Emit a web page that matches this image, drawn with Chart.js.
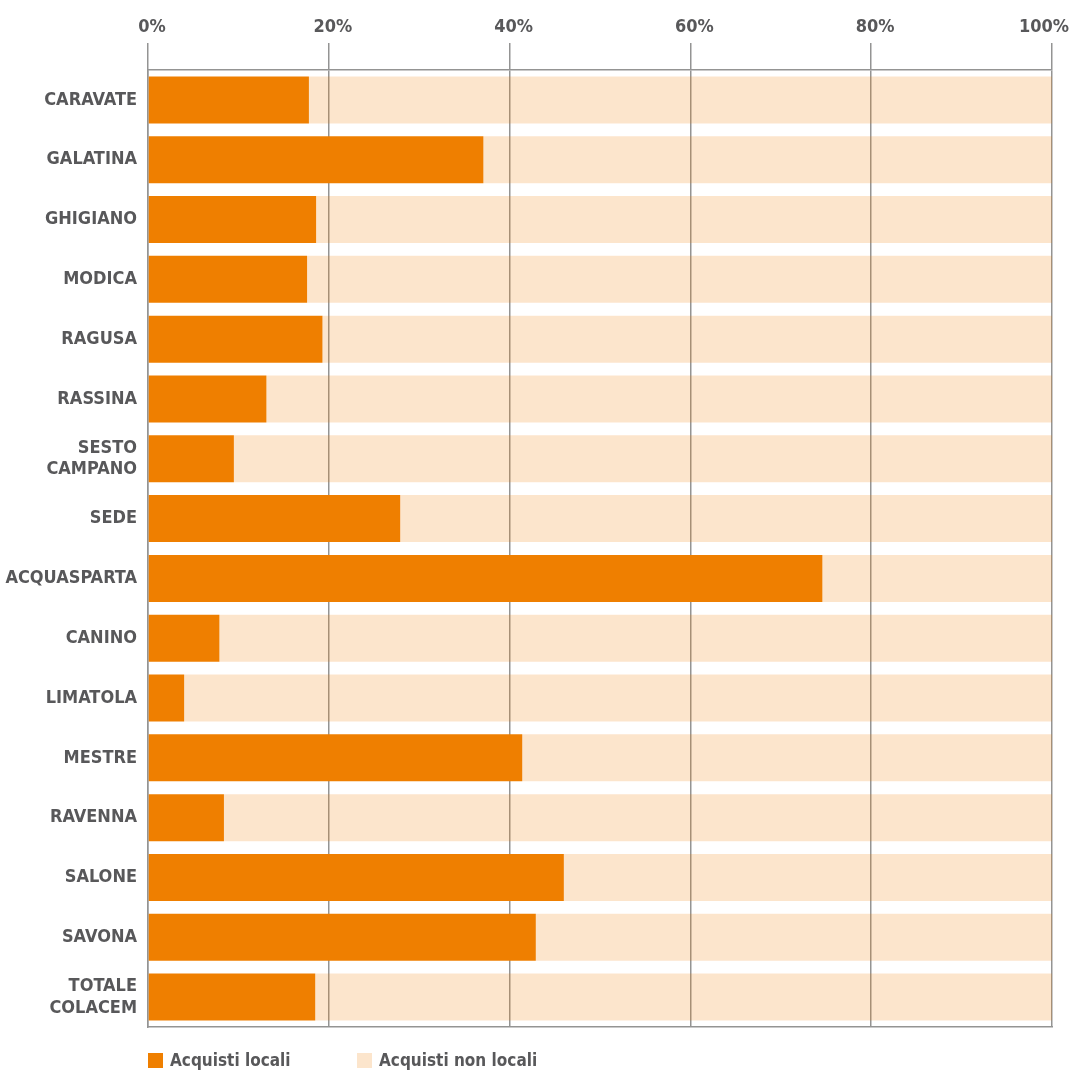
<!DOCTYPE html>
<html>
<head>
<meta charset="utf-8">
<script src="https://cdn.jsdelivr.net/npm/chart.js@4/dist/chart.umd.min.js"></script>
<style>
  html, body { margin: 0; padding: 0; background: #ffffff; }
</style>
</head>
<body>
<canvas id="acquisti-chart" width="1074" height="1070"></canvas>
<script>
// Plants (categories), top to bottom
const plants = [
    'CARAVATE', 'GALATINA', 'GHIGIANO', 'MODICA', 'RAGUSA', 'RASSINA',
    ['SESTO', 'CAMPANO'], 'SEDE', 'ACQUASPARTA', 'CANINO', 'LIMATOLA',
    'MESTRE', 'RAVENNA', 'SALONE', 'SAVONA', ['TOTALE', 'COLACEM']
];

// Share of local purchases (%)
const acquistiLocali = [17.8, 37.1, 18.6, 17.6, 19.3, 13.1, 9.5, 27.9, 74.6, 7.9, 4.0, 41.4, 8.4, 46.0, 42.9, 18.5];

// Share of non-local purchases (%)
const acquistiNonLocali = [82.2, 62.9, 81.4, 82.4, 80.7, 86.9, 90.5, 72.1, 25.4, 92.1, 96.0, 58.6, 91.6, 54.0, 57.1, 81.5];

// Tick labels for the percentage axis
const tickValues = [0, 20, 40, 60, 80, 100];
const tickLabels = ['0%', '20%', '40%', '60%', '80%', '100%'];

const orange = '#ef7f00';
const lightOrange = 'rgba(239, 127, 0, 0.2)';
const textGray = '#58585a';
const lineGray = '#949493';
const fontFamily = '"DejaVu Sans Condensed", "Liberation Sans Narrow", sans-serif';

// Percentage labels above the top axis (last one kept inside the canvas)
const topTickLabels = {
    id: 'topTickLabels',
    afterDraw(chart) {
        const ctx = chart.ctx;
        const scale = chart.scales.x;
        const y = chart.chartArea.top - 43;
        ctx.save();
        ctx.font = 'bold 18px ' + fontFamily;
        ctx.fillStyle = textGray;
        ctx.textAlign = 'center';
        ctx.textBaseline = 'middle';
        tickValues.forEach(function(v, i) {
            const w = ctx.measureText(tickLabels[i]).width;
            let x = scale.getPixelForValue(v) + 4;
            x = Math.min(x, chart.width - 5 - w / 2);
            ctx.fillText(tickLabels[i], x, y);
        });
        ctx.restore();
    }
};

// Legend drawn under the chart area, aligned with the left axis
const bottomLegend = {
    id: 'bottomLegend',
    afterDraw(chart) {
        const ctx = chart.ctx;
        const left = chart.chartArea.left;
        const y = chart.chartArea.bottom + 34;
        ctx.save();
        ctx.font = 'bold 17px ' + fontFamily;
        ctx.textBaseline = 'middle';
        chart.data.datasets.forEach(function(ds, i) {
            const x = left + i * 209;
            ctx.fillStyle = ds.backgroundColor;
            ctx.fillRect(x, y - 8, 15, 15);
            ctx.fillStyle = textGray;
            ctx.fillText(ds.label, x + 22, y + 1);
        });
        ctx.restore();
    }
};

const chartElement = document.getElementById('acquisti-chart');

let acquistiChart = new Chart(chartElement, {
    type: 'bar',
    data: {
        labels: plants,
        datasets: [{
            label: 'Acquisti locali',
            data: acquistiLocali,
            backgroundColor: orange,
            borderWidth: 0
        }, {
            label: 'Acquisti non locali',
            data: acquistiNonLocali,
            backgroundColor: lightOrange,
            borderWidth: 0
        }]
    },
    options: {
        indexAxis: 'y',
        responsive: false,
        animation: false,
        categoryPercentage: 1,
        barPercentage: 0.785,
        layout: {
            padding: { top: 0, right: 22, bottom: 43, left: 0 }
        },
        scales: {
            x: {
                position: 'top',
                stacked: true,
                min: 0,
                max: 100,
                afterBuildTicks: function(scale) {
                    scale.ticks = tickValues.map(v => ({ value: v }));
                },
                afterFit: function(scale) {
                    scale.height = 70;
                    scale.paddingLeft = 0;
                    scale.paddingRight = 0;
                },
                ticks: {
                    display: false
                },
                grid: {
                    color: lineGray,
                    lineWidth: 1.5,
                    tickLength: 27,
                    drawOnChartArea: true
                },
                border: {
                    display: true,
                    color: lineGray,
                    width: 1.5
                }
            },
            x2: {
                position: 'bottom',
                min: 0,
                max: 100,
                afterFit: function(scale) {
                    scale.height = 0;
                    scale.paddingLeft = 0;
                    scale.paddingRight = 0;
                },
                ticks: { display: false },
                grid: { display: false, drawTicks: false },
                border: {
                    display: true,
                    color: lineGray,
                    width: 1.5
                }
            },
            y: {
                stacked: true,
                afterFit: function(scale) {
                    scale.width = 148;
                },
                ticks: {
                    padding: 11,
                    color: textGray,
                    font: { family: fontFamily, size: 18, weight: 'bold', lineHeight: 1.2 }
                },
                grid: {
                    display: false,
                    drawTicks: false
                },
                border: {
                    display: true,
                    color: lineGray,
                    width: 1.5
                }
            }
        },
        plugins: {
            legend: { display: false },
            tooltip: { enabled: false }
        }
    },
    plugins: [topTickLabels, bottomLegend]
});
</script>
</body>
</html>
